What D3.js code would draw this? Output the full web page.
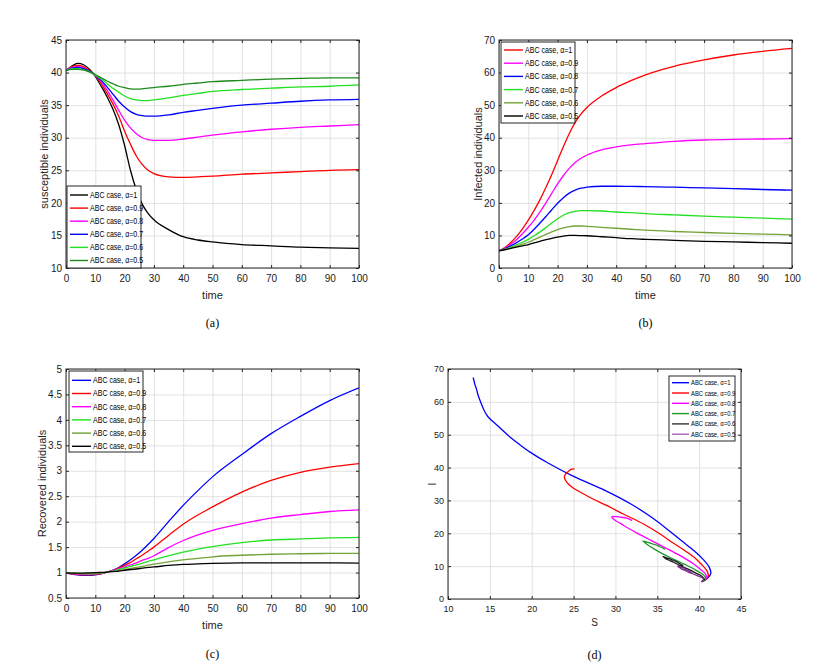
<!DOCTYPE html>
<html><head><meta charset="utf-8">
<script src="https://cdn.jsdelivr.net/npm/d3@7"></script>
<style>body{margin:0;background:#fff}svg{display:block;font-family:"Liberation Sans",Arial,sans-serif}</style>
</head><body><svg id="c" width="835" height="663"></svg>
<script>
// ---------- data ----------
const time = [0,2,4,6,8,10,12,14,16,18,20,22,24,26,28,30,35,40,45,50,60,70,80,90,100];
const alphas = ["1","0.9","0.8","0.7","0.6","0.5"];

// susceptible S(t)
const S_a10 = [40.3,41.0,41.4,41.2,40.5,39.4,37.9,36.3,34.4,32.0,28.8,25.0,22.0,19.8,18.4,17.4,15.9,14.8,14.3,14.0,13.6,13.4,13.2,13.1,13.0];
const S_a09 = [40.3,40.9,41.1,40.9,40.3,39.5,38.3,36.8,35.2,33.3,31.0,29.0,27.2,25.9,25.0,24.5,24.0,23.9,24.0,24.1,24.4,24.6,24.8,25.0,25.1];
const S_a08 = [40.3,40.8,40.9,40.7,40.2,39.6,38.6,37.3,35.8,34.2,32.7,31.5,30.6,30.0,29.7,29.6,29.6,29.8,30.1,30.4,30.9,31.3,31.6,31.8,32.0];
const S_a07 = [40.3,40.7,40.8,40.6,40.2,39.6,38.8,37.8,36.7,35.6,34.7,34.0,33.6,33.4,33.3,33.3,33.5,33.9,34.2,34.5,35.0,35.3,35.6,35.8,35.9];
const S_a06 = [40.3,40.6,40.6,40.4,40.1,39.6,39.0,38.3,37.6,37.0,36.4,36.0,35.8,35.7,35.7,35.8,36.1,36.5,36.8,37.1,37.4,37.6,37.8,37.9,38.1];
const S_a05 = [40.3,40.5,40.5,40.4,40.1,39.7,39.2,38.7,38.3,37.9,37.7,37.5,37.45,37.5,37.6,37.7,37.9,38.2,38.4,38.6,38.8,39.0,39.1,39.2,39.2];

// infected I(t)
const I_a10 = [5.3,6.3,7.8,9.7,12.0,14.7,17.7,21.0,24.7,28.7,33.0,37.3,41.3,44.7,47.3,49.3,52.8,55.4,57.5,59.3,62.0,63.9,65.4,66.5,67.4];
const I_a09 = [5.3,6.1,7.3,8.7,10.5,12.5,14.7,17.2,20.0,22.9,25.8,28.4,30.6,32.4,33.7,34.7,36.3,37.2,37.8,38.2,38.9,39.3,39.5,39.6,39.7];
const I_a08 = [5.3,5.9,6.8,7.8,8.9,10.2,11.9,13.8,15.8,17.9,19.9,21.6,23.0,23.9,24.5,24.8,25.1,25.1,25.05,25.0,24.8,24.6,24.4,24.1,23.9];
const I_a07 = [5.3,5.8,6.4,7.1,7.9,8.8,9.9,11.1,12.4,13.8,15.1,16.2,17.0,17.4,17.6,17.6,17.5,17.2,17.0,16.7,16.3,15.9,15.6,15.3,15.0];
const I_a06 = [5.3,5.7,6.2,6.7,7.3,7.9,8.7,9.5,10.3,11.1,11.8,12.3,12.7,12.9,12.9,12.8,12.5,12.2,11.9,11.6,11.2,10.9,10.6,10.4,10.2];
const I_a05 = [5.3,5.6,6.0,6.4,6.8,7.2,7.7,8.2,8.7,9.1,9.5,9.8,10.0,10.0,9.95,9.9,9.6,9.3,9.0,8.8,8.5,8.2,8.0,7.8,7.6];

// recovered R(t)
const R_a10 = [0.99,0.97,0.955,0.945,0.945,0.955,0.975,1.01,1.05,1.10,1.17,1.25,1.34,1.44,1.55,1.67,2.0,2.32,2.61,2.88,3.32,3.73,4.07,4.38,4.63];
const R_a09 = [0.99,0.975,0.96,0.955,0.955,0.965,0.98,1.01,1.04,1.09,1.14,1.20,1.27,1.34,1.42,1.50,1.73,1.95,2.13,2.29,2.58,2.81,2.97,3.07,3.14];
const R_a08 = [0.99,0.98,0.97,0.965,0.965,0.975,0.99,1.01,1.04,1.07,1.11,1.15,1.19,1.24,1.28,1.33,1.49,1.63,1.74,1.83,1.96,2.07,2.14,2.20,2.23];
const R_a07 = [0.99,0.985,0.98,0.975,0.975,0.98,0.99,1.01,1.03,1.06,1.09,1.12,1.15,1.18,1.22,1.25,1.33,1.40,1.46,1.51,1.59,1.64,1.66,1.68,1.69];
const R_a06 = [0.99,0.988,0.985,0.983,0.983,0.987,0.995,1.01,1.025,1.04,1.06,1.08,1.10,1.12,1.145,1.165,1.21,1.25,1.28,1.31,1.34,1.36,1.37,1.375,1.375];
const R_a05 = [0.99,0.99,0.99,0.99,0.993,0.997,1.003,1.01,1.02,1.03,1.045,1.06,1.07,1.085,1.10,1.11,1.14,1.16,1.17,1.18,1.19,1.19,1.19,1.19,1.185];

const timeTicks = [0,10,20,30,40,50,60,70,80,90,100];
const sTicksA = [10,15,20,25,30,35,40,45];
const iTicksB = [0,10,20,30,40,50,60,70];
const rTicksC = [0.5,1,1.5,2,2.5,3,3.5,4,4.5,5];
const sTicksD = [10,15,20,25,30,35,40,45];
const iTicksD = [0,10,20,30,40,50,60,70];

const colorsA = ["#000000","#ff0000","#ff00ff","#0000ff","#22e022","#1a8a1a"];
const colorsB = ["#ff0000","#ff00ff","#0000ff","#22e022","#74a236","#000000"];
const colorsC = ["#0000ff","#ff0000","#ff00ff","#22e022","#74a236","#000000"];
const colorsD = ["#0000ff","#ff0000","#ff00ff","#1f9a2a","#1a1a1a","#7e2f8e"];
const legendSwatchD = ["#0000ff","#ff0000","#ff00ff","#1f9a2a","#333333","#a862b8"];

const S_all = [S_a10,S_a09,S_a08,S_a07,S_a06,S_a05];
const I_all = [I_a10,I_a09,I_a08,I_a07,I_a06,I_a05];
const R_all = [R_a10,R_a09,R_a08,R_a07,R_a06,R_a05];

// ---------- drawing ----------
const svg = d3.select("#c");
const SANS = '"Liberation Sans",Arial,sans-serif';
const SERIF = '"Liberation Serif","Times New Roman",serif';
let clipId = 0;

function panel(cfg) {
  const g = svg.append("g");
  const x = d3.scaleLinear().domain(cfg.xd).range([cfg.L, cfg.R]);
  const y = d3.scaleLinear().domain(cfg.yd).range([cfg.B, cfg.T]);
  const W = cfg.R - cfg.L, H = cfg.B - cfg.T;
  const fs = cfg.tickFont || 10;

  // grid
  const gx = g.append("g").attr("transform", `translate(0,${cfg.B})`)
    .call(d3.axisBottom(x).tickValues(cfg.xt).tickSize(-H).tickFormat(""));
  const gy = g.append("g").attr("transform", `translate(${cfg.L},0)`)
    .call(d3.axisLeft(y).tickValues(cfg.yt).tickSize(-W).tickFormat(""));
  [gx, gy].forEach(a => { a.select(".domain").remove(); a.selectAll("line").attr("stroke", "#e1e1e1").attr("stroke-width", 1); });

  // data lines
  const id = "clip" + (clipId++);
  svg.append("clipPath").attr("id", id).append("rect")
    .attr("x", cfg.L).attr("y", cfg.T).attr("width", W).attr("height", H);
  const lg = g.append("g").attr("clip-path", `url(#${id})`);
  cfg.series.forEach(s => {
    const line = d3.line()
      .x((d, i) => x(s.x[i])).y((d, i) => y(s.y[i]))
      .curve(cfg.curve);
    lg.append("path").datum(s.y).attr("d", line)
      .attr("fill", "none").attr("stroke", s.color).attr("stroke-width", 1.3)
      .attr("stroke-linejoin", "round");
  });

  // axes (MATLAB style: inward ticks on all four sides)
  const styleAxis = a => {
    a.select(".domain").remove();
    a.selectAll("line").attr("stroke", "#262626");
    a.selectAll("text").attr("fill", "#1a1a1a").attr("font-size", fs).attr("font-family", SANS);
  };
  styleAxis(g.append("g").attr("transform", `translate(0,${cfg.B})`)
    .call(d3.axisBottom(x).tickValues(cfg.xt).tickSizeInner(-3).tickSizeOuter(0).tickPadding(6.5).tickFormat(d3.format("d"))));
  styleAxis(g.append("g").attr("transform", `translate(0,${cfg.T})`)
    .call(d3.axisTop(x).tickValues(cfg.xt).tickSizeInner(-3).tickSizeOuter(0).tickFormat("")));
  styleAxis(g.append("g").attr("transform", `translate(${cfg.L},0)`)
    .call(d3.axisLeft(y).tickValues(cfg.yt).tickSizeInner(-3).tickSizeOuter(0).tickPadding(4).tickFormat(cfg.yf || d3.format("d"))));
  styleAxis(g.append("g").attr("transform", `translate(${cfg.R},0)`)
    .call(d3.axisRight(y).tickValues(cfg.yt).tickSizeInner(-3).tickSizeOuter(0).tickFormat("")));

  g.append("rect").attr("x", cfg.L).attr("y", cfg.T).attr("width", W).attr("height", H)
    .attr("fill", "none").attr("stroke", "#262626").attr("stroke-width", 1);

  // axis labels
  g.append("text").attr("x", (cfg.L + cfg.R) / 2).attr("y", cfg.xLabelY)
    .attr("text-anchor", "middle").attr("font-size", cfg.labelFont || 11).attr("fill", "#262626")
    .attr("font-family", SANS).text(cfg.xLabel);
  g.append("text").attr("transform", `translate(${cfg.yLabelX},${(cfg.T + cfg.B) / 2}) rotate(-90)`)
    .attr("text-anchor", "middle").attr("font-size", cfg.labelFont || 11).attr("fill", "#262626")
    .attr("font-family", SANS).text(cfg.yLabel);

  // legend
  const L = cfg.legend;
  const lgd = g.append("g");
  lgd.append("rect").attr("x", L.x).attr("y", L.y).attr("width", L.w).attr("height", L.h)
    .attr("fill", "#fff").attr("stroke", "#262626").attr("stroke-width", 1);
  cfg.series.forEach((s, k) => {
    const yy = L.row0 + k * L.step;
    lgd.append("line").attr("x1", L.x + 3).attr("x2", L.x + 3 + L.len).attr("y1", yy).attr("y2", yy)
      .attr("stroke", s.swatch || s.color).attr("stroke-width", 1.4);
    lgd.append("g")
      .attr("transform", `translate(${L.x + 5 + L.len},${yy + L.fs * 0.36}) scale(${L.squeeze},1)`)
      .append("text").attr("x", 0).attr("y", 0)
      .attr("font-size", L.fs).attr("fill", "#000").attr("font-family", SANS)
      .text("ABC case, α=" + s.name);
  });

  // caption
  svg.append("text").attr("x", (cfg.L + cfg.R) / 2).attr("y", cfg.capY)
    .attr("text-anchor", "middle").attr("font-size", 12)
    .attr("font-family", SERIF).attr("fill", "#000")
    .text(cfg.caption);
}

const mk = (xs, ys, cols, sw) => alphas.map((a, k) => ({
  name: a, x: Array.isArray(xs[0]) ? xs[k] : xs, y: ys[k], color: cols[k], swatch: sw ? sw[k] : null }));

panel({
  L: 66, R: 359, T: 40, B: 268, xd: [0, 100], yd: [10, 45], xt: timeTicks, yt: sTicksA,
  series: mk(time, S_all, colorsA), curve: d3.curveMonotoneX,
  xLabel: "time", xLabelY: 299, yLabel: "susceptible individuals", yLabelX: 48,
  legend: { x: 67, y: 186, w: 74, h: 82, row0: 195, step: 13.1, len: 18, fs: 8.2, squeeze: 0.86 },
  caption: "(a)", capY: 327
});
panel({
  L: 499, R: 792, T: 40, B: 268, xd: [0, 100], yd: [0, 70], xt: timeTicks, yt: iTicksB,
  series: mk(time, I_all, colorsB), curve: d3.curveMonotoneX,
  xLabel: "time", xLabelY: 299, yLabel: "Infected individuals", yLabelX: 482,
  legend: { x: 501, y: 42, w: 74, h: 81, row0: 50, step: 13.2, len: 19, fs: 8.2, squeeze: 0.86 },
  caption: "(b)", capY: 327
});
panel({
  L: 66, R: 359, T: 369, B: 598, xd: [0, 100], yd: [0.5, 5], xt: timeTicks, yt: rTicksC,
  yf: d3.format("~g"),
  series: mk(time, R_all, colorsC), curve: d3.curveMonotoneX,
  xLabel: "time", xLabelY: 629, yLabel: "Recovered individuals", yLabelX: 46,
  legend: { x: 69, y: 371, w: 74, h: 81, row0: 380.3, step: 13.2, len: 19, fs: 8.2, squeeze: 0.86 },
  caption: "(c)", capY: 658
});
panel({
  L: 448, R: 741, T: 369, B: 599, xd: [10, 45], yd: [0, 70], xt: sTicksD, yt: iTicksD,
  series: mk(S_all, I_all, colorsD, legendSwatchD), curve: d3.curveCatmullRom.alpha(0.5),
  tickFont: 9, labelFont: 10,
  xLabel: "S", xLabelY: 626, yLabel: "I", yLabelX: 436,
  legend: { x: 669, y: 376, w: 66, h: 65, row0: 382.7, step: 10.3, len: 17, fs: 7, squeeze: 0.84 },
  caption: "(d)", capY: 659
});
</script>
</body></html>
